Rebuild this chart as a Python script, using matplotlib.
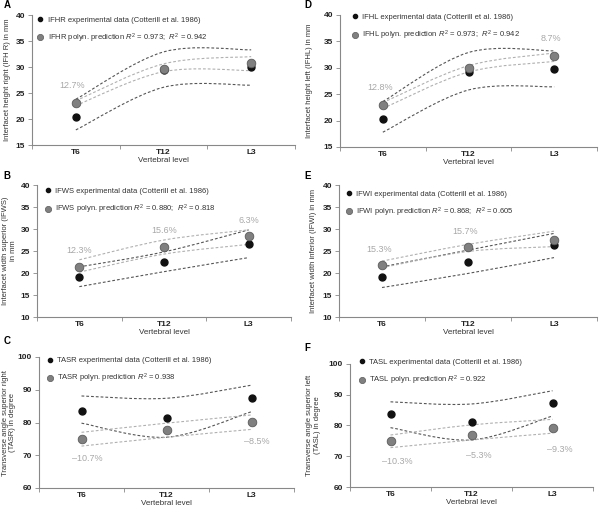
import matplotlib
matplotlib.use("Agg")
import matplotlib.pyplot as plt
from matplotlib.path import Path
from matplotlib.patches import PathPatch
from matplotlib.lines import Line2D

plt.rcParams['font.family'] = ['Liberation Sans', 'DejaVu Sans']
plt.rcParams['mathtext.fontset'] = 'custom'
plt.rcParams['mathtext.rm'] = 'Liberation Sans'
plt.rcParams['mathtext.it'] = 'Liberation Sans:italic'

levels = ["T6", "T12", "L3"]

# A - IFHR
ifhr_exp = [20.4, 29.5, 30.0]
ifhr_pred = [23.1, 29.6, 30.7]
ifhr_dark = [[23.8, 32.9, 33.3], [17.9, 26.1, 26.5]]
ifhr_light = [[23.5, 30.6, 32.0], [22.6, 29.1, 29.3]]
ifhr_pct = ["12.7%", "", ""]

# D - IFHL
ifhl_exp = [20.3, 29.2, 29.7]
ifhl_pred = [23.0, 29.9, 32.3]
ifhl_dark = [[23.6, 32.9, 33.2], [17.8, 25.8, 26.4]]
ifhl_light = [[23.4, 30.4, 32.8], [22.3, 29.2, 31.2]]
ifhl_pct = ["12.8%", "", "8.7%"]

# B - IFWS
ifws_exp = [19.0, 22.6, 26.5]
ifws_pred = [21.4, 26.0, 28.3]
ifws_dark = [[21.4, 24.8, 29.8], [16.9, 20.3, 23.5]]
ifws_light = [[23.0, 27.5, 29.8], [20.2, 24.3, 26.5]]
ifws_pct = ["12.3%", "15.6%", "6.3%"]

# E - IFWI
ifwi_exp = [19.0, 22.4, 26.4]
ifwi_pred = [21.8, 26.0, 27.5]
ifwi_dark = [[21.4, 25.2, 29.0], [16.7, 19.9, 23.5]]
ifwi_light = [[22.7, 26.5, 29.5], [21.2, 24.9, 26.0]]
ifwi_pct = ["15.3%", "15.7%", ""]

# C - TASR
tasr_exp = [83.6, 81.5, 87.6]
tasr_pred = [74.9, 77.7, 80.1]
tasr_dark = [[88.1, 87.4, 91.4], [79.8, 75.5, 83.3]]
tasr_light = [[77.0, 79.8, 82.3], [72.8, 75.5, 77.9]]
tasr_pct = ["\u201310.7%", "", "\u20138.5%"]

# F - TASL
tasl_exp = [83.6, 81.2, 87.2]
tasl_pred = [75.0, 76.9, 79.1]
tasl_dark = [[87.7, 87.0, 91.3], [79.3, 75.3, 83.1]]
tasl_light = [[76.9, 80.2, 82.0], [72.8, 75.3, 77.5]]
tasl_pct = ["\u201310.3%", "\u20135.3%", "\u20139.3%"]

W, H = 600, 507
fig = plt.figure(figsize=(W / 100, H / 100), dpi=100)


def smooth_path(xs, ys):
    # Excel-like smoothed line: cubic bezier through the points
    pts = list(zip(xs, ys))
    verts, codes = [pts[0]], [Path.MOVETO]
    n = len(pts)
    for i in range(n - 1):
        p0 = pts[i - 1] if i > 0 else pts[i]
        p1, p2 = pts[i], pts[i + 1]
        p3 = pts[i + 2] if i + 2 < n else pts[i + 1]
        c1 = (p1[0] + (p2[0] - p0[0]) / 6, p1[1] + (p2[1] - p0[1]) / 6)
        c2 = (p2[0] - (p3[0] - p1[0]) / 6, p2[1] - (p3[1] - p1[1]) / 6)
        verts += [c1, c2, p2]
        codes += [Path.CURVE4] * 3
    return Path(verts, codes)


def panel(box, letter, ylim, ystep, name, exp, pred, dark, light, pct,
          pct_off, r2, ylabel, ylab_x, leg_anchor, letter_xy):
    l, t, r, b = box
    ax = fig.add_axes([l / W, 1 - b / H, (r - l) / W, (b - t) / H])
    x = [1, 2, 3]
    for band in dark:
        ax.add_patch(PathPatch(smooth_path(x, band), fill=False, ec="#555555",
                               lw=0.8, ls=(0, (2.5, 1.8)), zorder=2))
    for band in light:
        ax.add_patch(PathPatch(smooth_path(x, band), fill=False, ec="#b0b0b0",
                               lw=0.8, ls=(0, (2.5, 1.8)), zorder=2))
    ax.plot(x, exp, "o", ms=5, color="#111111", zorder=3)
    ax.plot(x, pred, "o", ms=6.2, mfc="#808080", mec="#5a5a5a", mew=0.6, zorder=4)
    for xi, yi, s in zip(x, pred, pct):
        if s:
            ax.annotate(s, (xi, yi), xytext=pct_off, textcoords="offset points",
                        ha="center", va="center", fontsize=6.5, color="#a8a8a8")
    ax.set_xlim(0.5, 3.5)
    ax.set_ylim(*ylim)
    ax.set_yticks(range(ylim[0], ylim[1] + 1, ystep))
    ax.set_xticks(x)
    ax.set_xticklabels(levels)
    ax.set_xticks([0.5, 1.5, 2.5, 3.5], minor=True)
    ax.tick_params(axis="x", which="major", length=0, pad=3, labelsize=6)
    ax.tick_params(axis="x", which="minor", length=3, width=0.6, color="#888888")
    ax.tick_params(axis="y", length=3, width=0.6, color="#888888", pad=2, labelsize=6)
    for lab in ax.get_xticklabels() + ax.get_yticklabels():
        lab.set_fontweight("bold")
        lab.set_color("#222222")
    for s in ("top", "right"):
        ax.spines[s].set_visible(False)
    for s in ("left", "bottom"):
        ax.spines[s].set_color("#888888")
        ax.spines[s].set_linewidth(0.8)
    ax.set_xlabel("Vertebral level", fontsize=5.8, color="#333333", labelpad=0.5)
    ax.yaxis.set_label_coords(ylab_x, 0.5)
    ax.set_ylabel(ylabel, fontsize=5.5, color="#333333", linespacing=1.1)
    handles = [
        Line2D([], [], ls="", marker="o", ms=3, color="#111111"),
        Line2D([], [], ls="", marker="o", ms=4.5, mfc="#808080", mec="#5a5a5a", mew=0.5),
    ]
    labels = [name + " experimental data (Cotterill et al. 1986)",
              name + " polyn. prediction " + r2]
    ax.legend(handles, labels, loc="upper left", bbox_to_anchor=leg_anchor,
              frameon=False, fontsize=5.5, handlelength=0.8, handletextpad=0.6,
              labelspacing=1.0, borderpad=0, borderaxespad=0, labelcolor="#333333")
    fig.text(letter_xy[0] / W, 1 - letter_xy[1] / H, letter, fontsize=7,
             fontweight="bold", va="center", ha="left")
    return ax


r2_a = r"$R^2$ = 0.973;  $R^2$ = 0.942"
panel((32, 15, 295, 145), "A", (15, 40), 5, "IFHR", ifhr_exp, ifhr_pred,
      ifhr_dark, ifhr_light, ifhr_pct, (-3, 12.5), r2_a,
      "Interfacet height right (IFH R) in mm", -0.08, (0.02, 0.99), (4, 5))
panel((340, 15, 597, 147), "D", (15, 40), 5, "IFHL", ifhl_exp, ifhl_pred,
      ifhl_dark, ifhl_light, ifhl_pct, (-2, 12.5), r2_a,
      "Interfacet height left (IFHL) in mm", -0.105, (0.045, 1.01), (304, 5))
panel((37, 185, 291, 317), "B", (10, 40), 5, "IFWS", ifws_exp, ifws_pred,
      ifws_dark, ifws_light, ifws_pct, (0, 11.5), r"$R^2$ = 0.880;  $R^2$ = 0.818",
      "Interfacet width superior (IFWS)\nin mm", -0.08, (0.03, 0.98), (3, 176))
panel((339, 185, 597, 317), "E", (10, 40), 5, "IFWI", ifwi_exp, ifwi_pred,
      ifwi_dark, ifwi_light, ifwi_pct, (-2, 11), r"$R^2$ = 0.868;  $R^2$ = 0.605",
      "Interfacet width inferior (IFWI) in mm", -0.085, (0.025, 0.96), (304, 176))
panel((39, 357, 294, 488), "C", (60, 100), 10, "TASR", tasr_exp, tasr_pred,
      tasr_dark, tasr_light, tasr_pct, (4, -14), r"$R^2$ = 0.938",
      "Transverse angle superior right\n(TASR) in degree", -0.09, (0.03, 1.0), (4, 341))
panel((350, 364, 593, 487), "F", (60, 100), 10, "TASL", tasl_exp, tasl_pred,
      tasl_dark, tasl_light, tasl_pct, (5, -15), r"$R^2$ = 0.922",
      "Transverse angle superior left\n(TASL) in degree", -0.12, (0.035, 1.045), (304, 348))

fig.savefig("out.png", dpi=100)
